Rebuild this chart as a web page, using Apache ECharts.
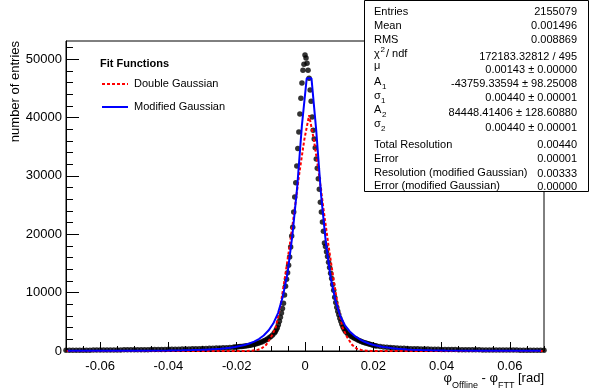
<!DOCTYPE html>
<html><head><meta charset="utf-8">
<script src="https://cdn.jsdelivr.net/npm/echarts@6/dist/echarts.min.js"></script>
<style>html,body{margin:0;padding:0;background:#fff}#c{width:590px;height:392px}</style>
</head><body><div id="c"></div>
<script>
// ---- tick labels ----
const xMajorTicks = [-0.06, -0.04, -0.02, 0, 0.02, 0.04, 0.06];
const xMinorTicks = [-0.07, -0.065, -0.06, -0.055, -0.05, -0.045, -0.04, -0.035, -0.03, -0.025, -0.02, -0.015, -0.01, -0.005, 0,
  0.005, 0.01, 0.015, 0.02, 0.025, 0.03, 0.035, 0.04, 0.045, 0.05, 0.055, 0.06, 0.065, 0.07];
const yMajorTicks = [0, 10000, 20000, 30000, 40000, 50000];
const yMinorTicks = [2000, 4000, 6000, 8000, 12000, 14000, 16000, 18000, 22000, 24000, 26000, 28000,
  32000, 34000, 36000, 38000, 42000, 44000, 46000, 48000, 52000];

// ---- histogram (black points) ----
const histX = [
  -0.070, -0.069, -0.068, -0.067, -0.066, -0.065, -0.064, -0.063, -0.062, -0.061,
  -0.060, -0.059, -0.058, -0.057, -0.056, -0.055, -0.054, -0.053, -0.052, -0.051,
  -0.050, -0.049, -0.048, -0.047, -0.046, -0.045, -0.044, -0.043, -0.042, -0.041,
  -0.040, -0.039, -0.038, -0.037, -0.036, -0.035, -0.034, -0.033, -0.032, -0.031,
  -0.030, -0.029, -0.028, -0.027, -0.026, -0.025, -0.024, -0.023, -0.022, -0.021,
  -0.0205, -0.0200, -0.0195, -0.0190, -0.0185, -0.0180, -0.0175, -0.0170, -0.0165, -0.0160,
  -0.0155, -0.0150, -0.0145, -0.0140, -0.0135, -0.0130, -0.0125, -0.0120, -0.0115, -0.0110,
  -0.0105, -0.0100, -0.0095, -0.0090,
  -0.0087, -0.0084, -0.0081, -0.0078, -0.0075, -0.0072, -0.0069, -0.0066, -0.0063, -0.0060,
  -0.0057, -0.0054, -0.0051, -0.0048, -0.0045, -0.0042, -0.0039, -0.0036, -0.0033, -0.0030,
  -0.0027, -0.0024, -0.0021, -0.0018, -0.0015, -0.0012, -0.0009, -0.0006, -0.0003, 0.0000,
  0.0003, 0.0006, 0.0009, 0.0012, 0.0015, 0.0018, 0.0021, 0.0024, 0.0027, 0.0030,
  0.0033, 0.0036, 0.0039, 0.0042, 0.0045, 0.0048, 0.0051, 0.0054, 0.0057, 0.0060,
  0.0063, 0.0066, 0.0069, 0.0072, 0.0075, 0.0078, 0.0081, 0.0084, 0.0087, 0.0090,
  0.0093, 0.0096, 0.0099, 0.0102, 0.0105, 0.0108, 0.0111, 0.0114, 0.0117, 0.0120,
  0.0125, 0.0130, 0.0135, 0.0140, 0.0145, 0.0150, 0.0155, 0.0160, 0.0165, 0.0170,
  0.0175, 0.0180, 0.0185, 0.0190, 0.0195, 0.0200, 0.0205,
  0.021, 0.022, 0.023, 0.024, 0.025, 0.026, 0.027, 0.028, 0.029, 0.030,
  0.031, 0.032, 0.033, 0.034, 0.035, 0.036, 0.037, 0.038, 0.039, 0.040,
  0.041, 0.042, 0.043, 0.044, 0.045, 0.046, 0.047, 0.048, 0.049, 0.050,
  0.051, 0.052, 0.053, 0.054, 0.055, 0.056, 0.057, 0.058, 0.059, 0.060,
  0.061, 0.062, 0.063, 0.064, 0.065, 0.066, 0.067, 0.068, 0.069, 0.070
];
const histY = [
  110, 115, 120, 125, 130, 135, 140, 145, 150, 155,
  160, 165, 170, 175, 180, 185, 190, 195, 200, 205,
  210, 215, 222, 228, 235, 242, 250, 258, 266, 275,
  285, 295, 305, 316, 328, 340, 353, 367, 382, 398,
  415, 433, 452, 473, 496, 520, 547, 577, 610, 648,
  670, 700, 730, 760, 790, 830, 860, 900, 950, 1000,
  1060, 1120, 1200, 1290, 1380, 1480, 1600, 1740, 1900, 2070,
  2250, 2480, 2750, 3080,
  3300, 3650, 4000, 4500, 5100, 5800, 6500, 7300, 8200, 9600,
  11100, 12300, 13400, 14700, 16100, 17800, 19700, 21200, 23800, 26400,
  28800, 31700, 34700, 37500, 40600, 43300, 45900, 48100, 49100, 50700,
  50200, 49300, 48100, 46700, 44700, 42800, 40100, 37800, 36300, 34800,
  32900, 31300, 29500, 27700, 25500, 23800, 22100, 20500, 18500, 17900,
  17000, 16200, 15200, 14300, 13300, 12400, 11400, 10400, 9200, 8300,
  7500, 6800, 6200, 5600, 5100, 4600, 4150, 3800, 3500, 3250,
  2950, 2720, 2530, 2370, 2200, 2040, 1880, 1740, 1620, 1510,
  1420, 1330, 1230, 1140, 1060, 980, 910,
  850, 760, 690, 630, 580, 540, 505, 475, 450, 425,
  405, 385, 368, 352, 337, 323, 310, 298, 287, 276,
  266, 257, 248, 240, 232, 225, 218, 212, 206, 200,
  195, 190, 185, 180, 176, 172, 168, 164, 160, 157,
  154, 150, 147, 144, 141, 138, 135, 132, 129, 126
];

// ---- fit curves (sampled as drawn) ----
const modGausX = [-0.0695, -0.0597, -0.0499, -0.0401, -0.0359, -0.0331, -0.0303, -0.0289, -0.0275, -0.0261,
  -0.0247, -0.0233, -0.0219, -0.0205, -0.0191, -0.0177, -0.0163, -0.0149, -0.0135, -0.0121,
  -0.0107, -0.0093, -0.0079, -0.0065, -0.0051, -0.0037, -0.0023, -0.0009, 0.0005, 0.0019,
  0.0033, 0.0047, 0.0061, 0.0075, 0.0089, 0.0103, 0.0117, 0.0131, 0.0145, 0.0159,
  0.0173, 0.0187, 0.0201, 0.0215, 0.0229, 0.0243, 0.0257, 0.0271, 0.0285, 0.0299,
  0.0313, 0.0341, 0.0369, 0.0411, 0.0509, 0.0607, 0.0691];
const modGausY = [28, 38, 55, 90, 118, 150, 200, 235, 280, 335,
  400, 480, 570, 690, 840, 1030, 1280, 1600, 2050, 2650,
  3500, 4700, 6500, 9300, 13400, 19800, 28000, 38700, 46700, 46700,
  37700, 26800, 18600, 12600, 8700, 6000, 4400, 3350, 2600, 2050,
  1620, 1280, 1030, 850, 700, 580, 480, 395, 330, 275,
  235, 180, 140, 100, 60, 40, 30];

const dblGausX = [-0.0698, -0.0184, -0.0170, -0.0156, -0.0142, -0.0128, -0.0114, -0.0100, -0.0086, -0.0072,
  -0.0058, -0.0044, -0.0030, -0.0016, -0.0002, 0.0012, 0.0026, 0.0040, 0.0054, 0.0068,
  0.0082, 0.0096, 0.0110, 0.0124, 0.0138, 0.0152, 0.0166, 0.0180, 0.0194, 0.0208, 0.0698];
const dblGausY = [0, 0, 15, 50, 150, 400, 1050, 2300, 4000, 7700,
  12900, 18400, 24400, 30700, 36200, 40400, 36200, 30700, 24400, 18400,
  12900, 7700, 4000, 2300, 1050, 400, 150, 50, 15, 0, 0];

const legendNames = ['Double Gaussian', 'Modified Gaussian'];
const statsLabels = ['Entries', 'Mean', 'RMS', 'Total Resolution', 'Error', 'Resolution (modified Gaussian)', 'Error (modified Gaussian)'];
const statsValues = ['2155079', '0.001496', '0.008869', '172183.32812 / 495', '0.00143 \u00b1 0.00000',
  '-43759.33594 \u00b1 98.25008', '0.00440 \u00b1 0.00001', '84448.41406 \u00b1 128.60880', '0.00440 \u00b1 0.00001',
  '0.00440', '0.00001', '0.00333', '0.00000'];

const FONT = '"Liberation Sans", Arial, Helvetica, sans-serif';
const zip = (xs, ys) => xs.map((x, i) => [x, ys[i]]);

const chart = echarts.init(document.getElementById('c'), null, {renderer: 'canvas'});

function txt(x, y, text, size, align, extra) {
  return Object.assign({
    type: 'text', z: 101,
    style: {x: x, y: y, text: text, fill: '#000', font: (size || 11) + 'px ' + FONT,
      textAlign: align || 'left', textVerticalAlign: 'middle'}
  }, extra || {});
}

const statsLabelY = [12, 26, 40, 145, 159, 173, 186];
const statsValueY = [12, 26, 40, 57, 70, 84, 98, 113, 128, 145, 159, 174, 187];

const graphics = [
  {type: 'rect', z: 100, shape: {x: 364.5, y: 0.5, width: 224, height: 191},
    style: {fill: '#fff', stroke: '#000', lineWidth: 1}},
  txt(374, statsLabelY[0], statsLabels[0]),
  txt(374, statsLabelY[1], statsLabels[1]),
  txt(374, statsLabelY[2], statsLabels[2]),
  txt(374, 54, '\u03c7'), txt(380.5, 50, '2', 8), txt(386, 54, '/ ndf'),
  txt(374, 66, '\u03bc'),
  txt(374, 82, 'A'), txt(382, 86.5, '1', 8),
  txt(374, 96, '\u03c3'), txt(381, 100.5, '1', 8),
  txt(374, 110, 'A'), txt(382, 114.5, '2', 8),
  txt(374, 124, '\u03c3'), txt(381, 128.5, '2', 8),
  txt(374, statsLabelY[3], statsLabels[3]),
  txt(374, statsLabelY[4], statsLabels[4]),
  txt(374, statsLabelY[5], statsLabels[5]),
  txt(374, statsLabelY[6], statsLabels[6])
];
statsValues.forEach((v, i) => graphics.push(txt(577, statsValueY[i], v, 11, 'right')));

// legend box (Fit Functions)
graphics.push(txt(100, 64, 'Fit Functions', 11, 'left', {z: 50}));
graphics[graphics.length - 1].style.font = 'bold 11px ' + FONT;
graphics.push({type: 'line', z: 50, shape: {x1: 102, y1: 84, x2: 128, y2: 84},
  style: {stroke: '#ff0000', lineWidth: 2, lineDash: [3, 2]}});
graphics.push(txt(134, 84, legendNames[0], 11, 'left', {z: 50}));
graphics.push({type: 'line', z: 50, shape: {x1: 102, y1: 107, x2: 128, y2: 107},
  style: {stroke: '#0000ff', lineWidth: 2}});
graphics.push(txt(134, 107, legendNames[1], 11, 'left', {z: 50}));

graphics.push({type: 'text', z: 50, x: 15, y: 41, rotation: Math.PI / 2,
  style: {text: 'number of entries', fill: '#000', font: '13px ' + FONT, textAlign: 'right', textVerticalAlign: 'middle'}});
graphics.push({type: 'text', z: 50,
  style: {x: 544, y: 378, text: '{p|\u03c6}{s|Offline}{p| - \u03c6}{s|FTT}{p| [rad]}',
    textAlign: 'right', textVerticalAlign: 'middle', fill: '#000',
    rich: {
      p: {fontSize: 13, lineHeight: 24, fontFamily: FONT, fill: '#000'},
      s: {fontSize: 9, lineHeight: 9, verticalAlign: 'bottom', fontFamily: FONT, fill: '#000'}
    }}});

const option = {
  animation: false,
  backgroundColor: '#fff',
  grid: {left: 66, right: 46, top: 41, bottom: 41, show: true, borderColor: '#000', borderWidth: 1, backgroundColor: 'transparent'},
  xAxis: [
    {type: 'value', min: -0.07, max: 0.07, position: 'bottom',
      axisLine: {show: true, onZero: false, lineStyle: {color: '#000', width: 1}},
      axisTick: {show: true, inside: true, length: 9, lineStyle: {color: '#000'}, customValues: xMajorTicks},
      axisLabel: {show: true, customValues: xMajorTicks, color: '#000', fontSize: 13, fontFamily: FONT, margin: 9,
        formatter: v => String(v)},
      splitLine: {show: false}},
    {type: 'value', min: -0.07, max: 0.07, position: 'bottom',
      axisLine: {show: false, onZero: false},
      axisTick: {show: true, inside: true, length: 5, lineStyle: {color: '#000'}, customValues: xMinorTicks},
      axisLabel: {show: false}, splitLine: {show: false}}
  ],
  yAxis: [
    {type: 'value', min: 0, max: 53100, position: 'left',
      axisLine: {show: true, onZero: false, lineStyle: {color: '#000', width: 1}},
      axisTick: {show: true, inside: true, length: 13, lineStyle: {color: '#000'}, customValues: yMajorTicks},
      axisLabel: {show: true, customValues: yMajorTicks, color: '#000', fontSize: 13, fontFamily: FONT, margin: 4,
        formatter: v => String(v)},
      splitLine: {show: false}},
    {type: 'value', min: 0, max: 53100, position: 'left',
      axisLine: {show: false, onZero: false},
      axisTick: {show: true, inside: true, length: 7, lineStyle: {color: '#000'}, customValues: yMinorTicks},
      axisLabel: {show: false}, splitLine: {show: false}}
  ],
  series: [
    {name: 'data', type: 'scatter', xAxisIndex: 0, yAxisIndex: 0, symbol: 'circle', symbolSize: 5.5,
      itemStyle: {color: '#000'}, z: 2, data: zip(histX, histY), silent: true},
    {name: legendNames[0], type: 'line', xAxisIndex: 0, yAxisIndex: 0, symbol: 'none', showSymbol: false,
      lineStyle: {color: '#ff0000', width: 2, type: [3, 2]}, itemStyle: {color: '#ff0000'}, z: 3,
      data: zip(dblGausX, dblGausY), silent: true},
    {name: legendNames[1], type: 'line', xAxisIndex: 0, yAxisIndex: 0, symbol: 'none', showSymbol: false,
      lineStyle: {color: '#0000ff', width: 2}, itemStyle: {color: '#0000ff'}, z: 4,
      data: zip(modGausX, modGausY), silent: true}
  ],
  graphic: graphics
};
chart.setOption(option);
</script>
</body></html>
